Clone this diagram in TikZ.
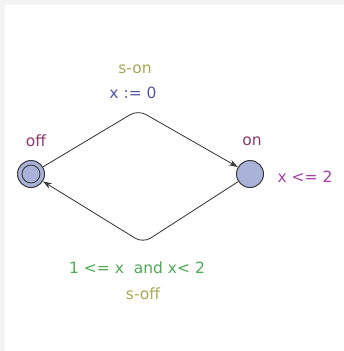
\documentclass[tikz,border=0pt]{standalone}
\usepackage{fontspec}
\setmainfont{DejaVu Sans}
\usetikzlibrary{arrows.meta}
\definecolor{bggray}{HTML}{F3F3F3}
\definecolor{locfill}{HTML}{A9B2D8}
\definecolor{edgecol}{HTML}{3A3A3A}
\definecolor{synccol}{HTML}{A8AA55}
\definecolor{assigncol}{HTML}{5555A8}
\definecolor{namecol}{HTML}{8E3A6E}
\definecolor{invcol}{HTML}{A83EA8}
\definecolor{guardcol}{HTML}{4EAA55}
\begin{document}
\begin{tikzpicture}[x=1pt,y=-1pt,
  loc/.style={circle,draw=edgecol,fill=locfill,line width=1pt,minimum size=27pt,inner sep=0pt},
  edge/.style={draw=edgecol,line width=0.85pt,rounded corners=9pt,-{Stealth[length=9pt,width=6pt]}},
  lbl/.style={font=\fontsize{15.5}{17}\selectfont,inner sep=0pt}]
\fill[bggray] (0,0) rectangle (344,351);
\fill[white] (5,5) rectangle (344,351);
\useasboundingbox (0,0) rectangle (344,351);
\node[loc] (off) at (31,174) {};
\node[circle,draw=edgecol,line width=0.9pt,minimum size=18pt,inner sep=0pt] (offin) at (off.center) {};
\node[loc] (on) at (250,174) {};
\coordinate (top) at (138,110);
\coordinate (bot) at (143,243);
\draw[edge] (off) -- (top) -- (on);
\draw[edge] (on) -- (bot) -- (off);
\node[lbl,text=namecol] (offname) at (36,141) {off};
\node[lbl,text=namecol] (onname) at (252,141) {on};
\node[lbl,text=invcol] (inv) at (305,177) {x <= 2};
\node[lbl,text=synccol] (son) at (135,69) {s-on};
\node[lbl,text=assigncol] (assign) at (133,93) {x := 0};
\node[lbl,text=guardcol] (guard) at (137,268) {1 <= x\ \ and x< 2};
\node[lbl,text=synccol] (soff) at (143,294) {s-off};
\end{tikzpicture}
\end{document}
